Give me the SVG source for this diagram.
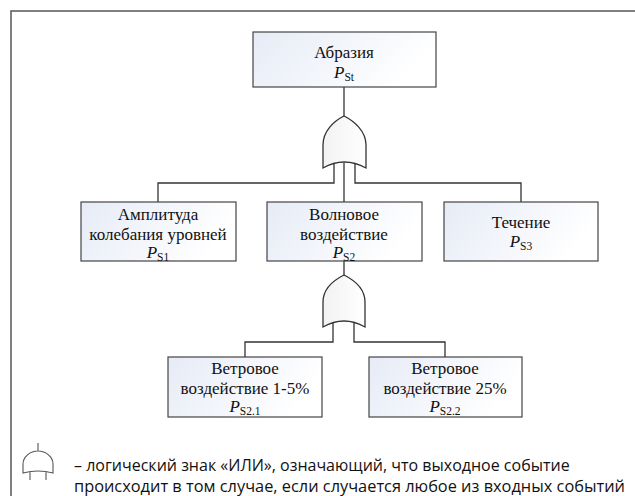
<svg xmlns="http://www.w3.org/2000/svg" width="635" height="496" viewBox="0 0 635 496">
<defs>
<linearGradient id="bf" x1="0" y1="0" x2="1" y2="0.3">
<stop offset="0" stop-color="#e6ebf6"/>
<stop offset="1" stop-color="#ffffff"/>
</linearGradient>
<linearGradient id="gf" x1="0" y1="0" x2="1" y2="0">
<stop offset="0" stop-color="#f2f2f2"/>
<stop offset="1" stop-color="#ffffff"/>
</linearGradient>
</defs>
<style>
.box{fill:url(#bf);stroke:#444;stroke-width:1.2}
.t{font-family:"Liberation Serif","Times New Roman",serif;font-size:17px;fill:#111;text-anchor:middle}
.p{font-style:italic}
.s{font-style:normal;font-size:11.5px}
.ln{fill:none;stroke:#333;stroke-width:1.3}
.gate{fill:url(#gf);stroke:#333;stroke-width:1.3}
.leg{font-family:"Open Sans","Liberation Sans",sans-serif;font-size:16px;fill:#111}
</style>
<rect x="0" y="0" width="635" height="496" fill="#fff"/>
<rect x="11" y="11" width="640" height="500" fill="none" stroke="#555" stroke-width="1.5"/>

<g id="connectors">
<path class="ln" d="M344,87 V116"/>
<path class="ln" d="M334,164 V183 H158 V202"/>
<path class="ln" d="M355,164 V183 H521 V202"/>
<path class="ln" d="M344,163 V202"/>
<path class="ln" d="M344,261 V275"/>
<path class="ln" d="M333,323 V342 H245 V357"/>
<path class="ln" d="M354,323 V342 H445 V357"/>
</g>

<g id="gate1">
<path class="gate" d="M323,168 V145 C323,131 334,121 344,116 C354,121 366,131 366,145 V168 Q344,156 323,168 Z"/>
</g>
<g id="gate2">
<path class="gate" d="M323,327 V302 C323,288 334,280 344,275 C354,280 365,288 365,302 V327 Q344,315 323,327 Z"/>
</g>

<g id="n-top">
<rect class="box" x="253" y="32" width="183" height="55"/>
<text class="t" x="344" y="58">Абразия</text>
<text class="t" x="344" y="78"><tspan class="p">P</tspan><tspan class="s" dy="3">St</tspan></text>
</g>
<g id="n-s1">
<rect class="box" x="81" y="202" width="155" height="59"/>
<text class="t" x="158" y="220">Амплитуда</text>
<text class="t" x="158" y="240">колебания уровней</text>
<text class="t" x="158" y="258"><tspan class="p">P</tspan><tspan class="s" dy="3">S1</tspan></text>
</g>
<g id="n-s2">
<rect class="box" x="267" y="202" width="155" height="59"/>
<text class="t" x="344" y="220">Волновое</text>
<text class="t" x="344" y="240">воздействие</text>
<text class="t" x="344" y="258"><tspan class="p">P</tspan><tspan class="s" dy="3">S2</tspan></text>
</g>
<g id="n-s3">
<rect class="box" x="444" y="202" width="154" height="59"/>
<text class="t" x="521" y="228">Течение</text>
<text class="t" x="521" y="247"><tspan class="p">P</tspan><tspan class="s" dy="3">S3</tspan></text>
</g>
<g id="n-s21">
<rect class="box" x="168" y="357" width="154" height="60"/>
<text class="t" x="245" y="374">Ветровое</text>
<text class="t" x="245" y="394">воздействие 1-5%</text>
<text class="t" x="245" y="412"><tspan class="p">P</tspan><tspan class="s" dy="3">S2.1</tspan></text>
</g>
<g id="n-s22">
<rect class="box" x="369" y="357" width="153" height="60"/>
<text class="t" x="445" y="374">Ветровое</text>
<text class="t" x="445" y="394">воздействие 25%</text>
<text class="t" x="445" y="412"><tspan class="p">P</tspan><tspan class="s" dy="3">S2.2</tspan></text>
</g>

<g id="legend">
<path fill="none" stroke="#555" stroke-width="1.1" d="M38,443 V451 M23,473 V464 C23,457 30,451 38,451 C46,451 53,457 53,464 V473 Q38,469 23,473 Z M30,472 V480 M46,472 V480"/>
<text class="leg" x="74" y="471">– логический знак «ИЛИ», означающий, что выходное событие</text>
<text class="leg" x="74" y="492" textLength="551" lengthAdjust="spacingAndGlyphs">происходит в том случае, если случается любое из входных событий</text>
</g>
</svg>
